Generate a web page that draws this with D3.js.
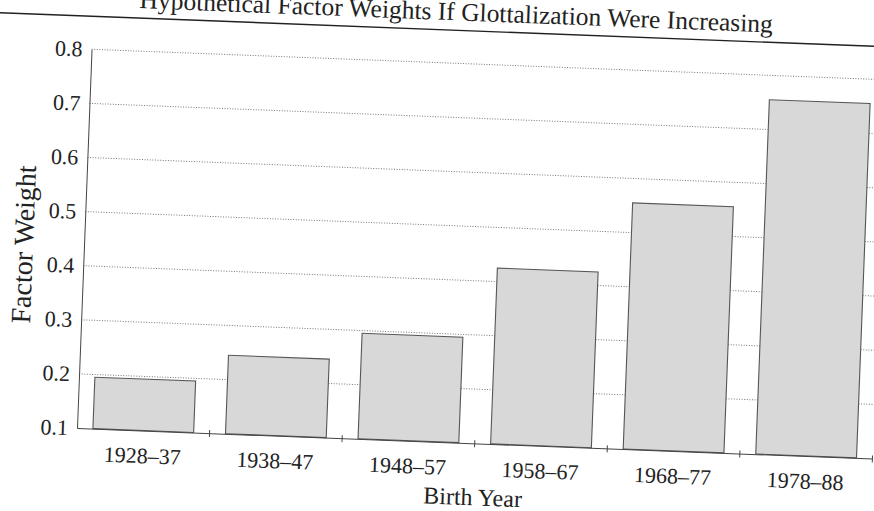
<!DOCTYPE html>
<html>
<head>
<meta charset="utf-8">
<script src="https://cdn.jsdelivr.net/npm/d3@7"></script>
<style>
  body { margin: 0; background: #fff; }
  text { font-family: 'Liberation Serif', 'Times New Roman', serif; fill: #222; }
</style>
</head>
<body>
<div class="chart"></div>
<script>
let categories = ['1928–37', '1938–47', '1948–57', '1958–67', '1968–77', '1978–88'];
let weights = [0.195, 0.245, 0.295, 0.425, 0.555, 0.755];
let yTicks = [0.1, 0.2, 0.3, 0.4, 0.5, 0.6, 0.7, 0.8];

let margin = {top: 49, right: 0, bottom: 83, left: 77};
let width = 796;
let height = 379;
let tilt = 2.2; // the scan is a little skewed

let svg = d3.select('.chart')
  .append('svg')
    .attr('width', 874)
    .attr('height', 511);

let page = svg.append('g')
  .attr('transform', `rotate(${tilt}, ${margin.left}, ${margin.top + height})`);

// title and rule under it
page.append('text')
  .attr('x', 440)
  .attr('y', 6)
  .attr('text-anchor', 'middle')
  .style('font-size', '25.5px')
  .text('Hypothetical Factor Weights If Glottalization Were Increasing');

page.append('line')
  .attr('x1', -20)
  .attr('x2', 920)
  .attr('y1', 16)
  .attr('y2', 16)
  .style('stroke', '#222')
  .style('stroke-width', 1.4);

let chart = page.append('g')
  .attr('transform', `translate(${margin.left}, ${margin.top})`);

let yScale = d3.scaleLinear()
  .domain([0.1, 0.8])
  .range([height, 0]);

let xScale = d3.scaleBand()
  .domain(categories)
  .range([0, width])
  .paddingInner(0.24)
  .paddingOuter(0.12);

// dotted grid
chart.selectAll('.grid')
  .data(yTicks.slice(1))
  .enter()
  .append('line')
    .attr('class', 'grid')
    .attr('x1', 0)
    .attr('x2', width + 20)
    .attr('y1', d => yScale(d))
    .attr('y2', d => yScale(d))
    .style('stroke', '#777')
    .style('stroke-width', 1)
    .style('stroke-dasharray', '1,1.6');

chart.selectAll('.bar')
  .data(weights)
  .enter()
  .append('rect')
    .attr('class', 'bar')
    .attr('x', (d, i) => xScale(categories[i]))
    .attr('width', xScale.bandwidth())
    .attr('y', d => yScale(d))
    .attr('height', d => height - yScale(d))
    .style('fill', '#d8d8d8')
    .style('stroke', '#555')
    .style('stroke-width', 1.1);

let yAxis = d3.axisLeft(yScale)
  .tickValues(yTicks)
  .tickFormat(d3.format('.1f'))
  .tickSize(0)
  .tickPadding(9);

let yG = chart.append('g').call(yAxis);
yG.select('.domain').style('stroke', '#444');
yG.selectAll('text')
  .style('font-family', "'Liberation Serif', serif")
  .style('font-size', '22px')
  .style('fill', '#222');

let xAxis = d3.axisBottom(xScale)
  .tickSize(0)
  .tickPadding(17);

let xG = chart.append('g')
  .attr('transform', `translate(0, ${height})`)
  .call(xAxis);
xG.select('.domain').style('stroke', '#444');
xG.selectAll('text')
  .style('font-family', "'Liberation Serif', serif")
  .style('font-size', '22px')
  .style('fill', '#222');

// small marks between the bars
xG.selectAll('.sep')
  .data(categories)
  .enter()
  .append('line')
    .attr('class', 'sep')
    .attr('x1', d => xScale(d) - xScale.step() * xScale.paddingOuter() + xScale.step())
    .attr('x2', d => xScale(d) - xScale.step() * xScale.paddingOuter() + xScale.step())
    .attr('y1', -3)
    .attr('y2', 4)
    .style('stroke', '#444');

chart.append('text')
  .attr('x', width / 2)
  .attr('y', height + 62)
  .attr('text-anchor', 'middle')
  .style('font-size', '24px')
  .text('Birth Year');

chart.append('text')
  .attr('transform', `translate(-51, ${height / 2 + 8}) rotate(-90)`)
  .attr('text-anchor', 'middle')
  .style('font-size', '28px')
  .text('Factor Weight');
</script>
</body>
</html>
